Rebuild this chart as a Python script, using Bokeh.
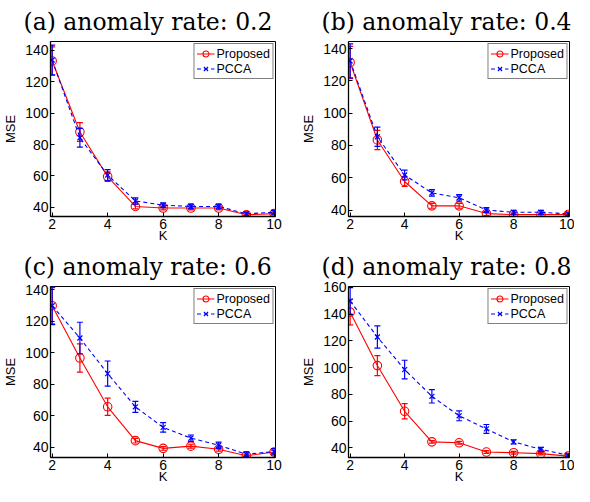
from bokeh.plotting import figure
from bokeh.layouts import column, row
from bokeh.models import Range1d, FixedTicker, Title
from bokeh.embed import file_html
from bokeh.resources import INLINE

K = [2, 3, 4, 5, 6, 7, 8, 9, 10]

titles = ["(a) anomaly rate: 0.2", "(b) anomaly rate: 0.4",
          "(c) anomaly rate: 0.6", "(d) anomaly rate: 0.8"]

proposed_a = [133.2, 88.0, 59.6, 40.6, 39.6, 39.6, 39.6, 35.3, 36.0]
proposed_a_err = [9.0, 6.0, 3.0, 1.5, 1.2, 1.2, 1.2, 1.0, 1.0]
pcca_a = [133.8, 84.3, 60.6, 44.1, 41.4, 40.6, 40.6, 35.9, 36.9]
pcca_a_err = [9.5, 6.0, 3.5, 2.0, 1.5, 1.5, 1.5, 1.2, 1.2]

proposed_b = [131.4, 83.4, 57.7, 42.6, 42.6, 37.8, 37.2, 37.2, 37.2]
proposed_b_err = [10.0, 6.0, 3.0, 1.5, 1.5, 1.2, 1.0, 1.0, 1.0]
pcca_b = [132.4, 85.4, 61.7, 50.6, 47.6, 40.0, 38.6, 38.6, 37.6]
pcca_b_err = [10.5, 6.0, 3.0, 2.0, 2.0, 1.5, 1.2, 1.2, 1.2]

proposed_c = [129.8, 96.6, 65.6, 44.1, 39.2, 40.6, 38.6, 34.5, 36.9]
proposed_c_err = [11.5, 9.0, 5.5, 1.5, 1.2, 1.2, 1.2, 1.0, 1.0]
pcca_c = [129.8, 109.3, 86.7, 65.6, 52.5, 45.7, 41.2, 35.5, 37.1]
pcca_c_err = [12.0, 10.0, 8.0, 3.5, 3.0, 2.0, 2.0, 1.5, 2.0]

proposed_d = [141.5, 101.5, 67.3, 44.4, 43.7, 36.8, 36.3, 35.6, 33.7]
proposed_d_err = [9.5, 7.5, 5.7, 1.0, 1.0, 1.0, 1.0, 1.0, 1.0]
pcca_d = [149.8, 122.9, 98.5, 78.5, 63.9, 54.1, 44.4, 38.8, 34.4]
pcca_d_err = [10.0, 8.3, 7.0, 5.0, 3.7, 3.3, 1.6, 1.5, 1.0]

y_ranges = [(34.2, 145.6), (36.0, 144.4), (33.4, 142.0), (32.7, 160.7)]
y_ticks = [[40, 60, 80, 100, 120, 140], [40, 60, 80, 100, 120, 140],
           [40, 60, 80, 100, 120, 140], [40, 60, 80, 100, 120, 140, 160]]
x_ticks = [2, 4, 6, 8, 10]

RED = "#ff0000"
BLUE = "#0000ff"


def errbars(p, x, y, e, color):
    lo = [v - d for v, d in zip(y, e)]
    hi = [v + d for v, d in zip(y, e)]
    p.segment(x0=x, y0=lo, x1=x, y1=hi, line_color=color, line_width=1.2)
    p.scatter(x, lo, marker="dash", size=6, line_color=color, line_width=1.2)
    p.scatter(x, hi, marker="dash", size=6, line_color=color, line_width=1.2)


def panel(i, prop, prop_err, pcca, pcca_err, width, height, mb):
    p = figure(width=width, height=height, output_backend="svg",
               toolbar_location=None,
               x_range=Range1d(1.94, 10.05),
               y_range=Range1d(*y_ranges[i]),
               min_border_left=mb[0], min_border_right=mb[1],
               min_border_top=0, min_border_bottom=mb[2])
    p.title = Title(text=titles[i], text_font="DejaVu Serif",
                    text_font_size="23.5px", text_font_style="normal",
                    text_color="black", align="left", offset=-27, standoff=11)
    p.xgrid.visible = False
    p.ygrid.visible = False
    p.outline_line_color = "black"
    p.outline_line_width = 1
    p.background_fill_color = "white"
    p.border_fill_color = "white"

    for ax, ticks, lab in ((p.xaxis[0], x_ticks, "K"), (p.yaxis[0], y_ticks[i], "MSE")):
        ax.ticker = FixedTicker(ticks=ticks)
        ax.axis_label = lab
        ax.axis_line_color = "black"
        ax.axis_line_width = 1.3
        ax.major_tick_in = 4
        ax.major_tick_out = 0
        ax.minor_tick_in = 0
        ax.minor_tick_out = 0
        ax.major_tick_line_color = "black"
        ax.major_label_text_font = "Liberation Sans"
        ax.major_label_text_font_size = "14px"
        ax.major_label_text_color = "black"
        ax.axis_label_text_font = "Liberation Sans"
        ax.axis_label_text_font_size = "13px"
        ax.axis_label_text_font_style = "normal"
        ax.axis_label_text_color = "black"
        ax.major_label_standoff = 2
    p.xaxis[0].axis_label_standoff = -4
    p.yaxis[0].axis_label_standoff = 4

    p.line(K, prop, line_color=RED, line_width=1.1, legend_label="Proposed")
    p.scatter(K, prop, marker="circle", size=8.5, line_color=RED,
              fill_color=None, line_width=1.1, legend_label="Proposed")
    errbars(p, K, prop, prop_err, RED)

    p.line(K, pcca, line_color=BLUE, line_width=1.1, line_dash="4 3",
           legend_label="PCCA")
    p.scatter(K, pcca, marker="x", size=7, line_color=BLUE,
              line_width=1.2, legend_label="PCCA")
    errbars(p, K, pcca, pcca_err, BLUE)

    lg = p.legend[0]
    lg.location = "top_right"
    lg.margin = 2
    lg.padding = 2
    lg.spacing = 0
    lg.label_text_font = "Liberation Sans"
    lg.label_text_font_size = "12.5px"
    lg.label_text_color = "black"
    lg.label_standoff = 2
    lg.label_height = 15
    lg.glyph_width = 18
    lg.glyph_height = 15
    lg.border_line_color = "black"
    lg.border_line_width = 1.3
    lg.background_fill_alpha = 1
    return p


pa = panel(0, proposed_a, proposed_a_err, pcca_a, pcca_a_err, 298, 245, (42, 23, 20))
pb = panel(1, proposed_b, proposed_b_err, pcca_b, pcca_b_err, 276, 245, (42, 5, 20))
pc = panel(2, proposed_c, proposed_c_err, pcca_c, pcca_c_err, 298, 241, (42, 23, 20))
pd = panel(3, proposed_d, proposed_d_err, pcca_d, pcca_d_err, 276, 241, (42, 5, 20))

layout = column(row(pa, pb, spacing=0), row(pc, pd, spacing=0), spacing=0)
open("out.html", "w").write(file_html(layout, INLINE))
